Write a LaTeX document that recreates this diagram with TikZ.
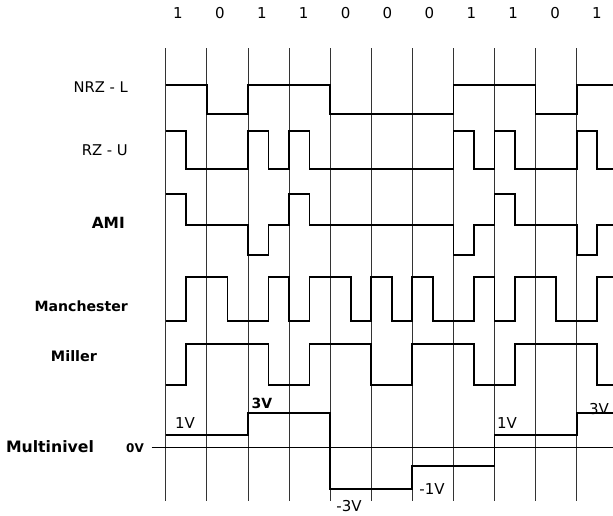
\documentclass[tikz,border=0pt]{standalone}
\usepackage{fontspec}
\setmainfont{DejaVu Sans}
\newcommand\myfs[1]{\fontsize{#1}{#1}\selectfont}
\begin{document}
\begin{tikzpicture}[x=1pt,y=-1pt,
  wave/.style={line width=1.7pt, line join=miter},
  gridline/.style={line width=0.7pt, black!80},
  zeroline/.style={line width=1pt},
  txt/.style={inner sep=0pt, text=black},
  digit/.style={txt, font=\myfs{15}},
  volt/.style={txt, font=\myfs{15}}]
\useasboundingbox (0,0) rectangle (613,515);
% vertical grid lines
\foreach \i in {0,...,10}
  \draw[gridline] ({165.7+41.1*\i},48) -- ({165.7+41.1*\i},501);
% bit labels
\foreach \b [count=\i from 0] in {1,0,1,1,0,0,0,1,1,0,1}
  \node[digit] (bit\i) at ({178+41.9*\i},13) {\b};
% signal names
\node[txt, anchor=east, font=\myfs{14.7}] (nrz) at (128,87) {NRZ - L};
\node[txt, anchor=east, font=\myfs{14.8}] (rzu) at (128,150) {RZ - U};
\node[txt, anchor=east, font=\bfseries\myfs{15.4}] (ami) at (125,223) {AMI};
\node[txt, anchor=east, font=\bfseries\myfs{14.1}] (man) at (128,306) {Manchester};
\node[txt, font=\bfseries\myfs{14.4}] (mil) at (74,356) {Miller};
\node[txt, font=\bfseries\myfs{15.7}] (mul) at (50,447) {Multinivel};
\node[txt, font=\bfseries\myfs{12}] (v0) at (135,448) {0V};
% zero line of the multilevel signal
\coordinate (zl) at (151.7,447);
\coordinate (zr) at (613,447);
\draw[zeroline] (zl) -- (zr);
% voltage labels
\node[volt] (v1a) at (185,423) {1V};
\node[volt, font=\bfseries\myfs{14}] (v3a) at (262,403) {3V};
\node[volt] (vm3) at (349,506) {-3V};
\node[volt] (vm1) at (432,489) {-1V};
\node[volt] (v1b) at (507,423) {1V};
\node[volt] (v3b) at (599,409) {3V};
\begin{scope}[xshift=165.7pt, x=41.1pt, y=-1pt]
% NRZ-L
\draw[wave] (0,85) -- (1,85) -- (1,114) -- (2,114) -- (2,85) -- (4,85) -- (4,114)
  -- (7,114) -- (7,85) -- (9,85) -- (9,114) -- (10,114) -- (10,85) -- (10.9,85);
% RZ-U
\draw[wave] (0,131) -- (0.5,131) -- (0.5,169) -- (2,169) -- (2,131) -- (2.5,131)
  -- (2.5,169) -- (3,169) -- (3,131) -- (3.5,131) -- (3.5,169) -- (7,169) -- (7,131)
  -- (7.5,131) -- (7.5,169) -- (8,169) -- (8,131) -- (8.5,131) -- (8.5,169)
  -- (10,169) -- (10,131) -- (10.5,131) -- (10.5,169) -- (10.9,169);
% AMI
\draw[wave] (0,194) -- (0.5,194) -- (0.5,225) -- (2,225) -- (2,255) -- (2.5,255)
  -- (2.5,225) -- (3,225) -- (3,194) -- (3.5,194) -- (3.5,225) -- (7,225) -- (7,255)
  -- (7.5,255) -- (7.5,225) -- (8,225) -- (8,194) -- (8.5,194) -- (8.5,225)
  -- (10,225) -- (10,255) -- (10.5,255) -- (10.5,225) -- (10.9,225);
% Manchester
\draw[wave] (0,321) -- (0.5,321) -- (0.5,277) -- (1.5,277) -- (1.5,321) -- (2.5,321)
  -- (2.5,277) -- (3,277) -- (3,321) -- (3.5,321) -- (3.5,277) -- (4.5,277)
  -- (4.5,321) -- (5,321) -- (5,277) -- (5.5,277) -- (5.5,321) -- (6,321) -- (6,277)
  -- (6.5,277) -- (6.5,321) -- (7.5,321) -- (7.5,277) -- (8,277) -- (8,321)
  -- (8.5,321) -- (8.5,277) -- (9.5,277) -- (9.5,321) -- (10.5,321) -- (10.5,277)
  -- (10.9,277);
% Miller
\draw[wave] (0,385) -- (0.5,385) -- (0.5,344) -- (2.5,344) -- (2.5,385) -- (3.5,385)
  -- (3.5,344) -- (5,344) -- (5,385) -- (6,385) -- (6,344) -- (7.5,344) -- (7.5,385)
  -- (8.5,385) -- (8.5,344) -- (10.5,344) -- (10.5,385) -- (10.9,385);
% Multinivel
\draw[wave] (0,435) -- (2,435) -- (2,413) -- (4,413) -- (4,489) -- (6,489)
  -- (6,466) -- (8,466) -- (8,435) -- (10,435) -- (10,413) -- (10.9,413);
\end{scope}
\end{tikzpicture}
\end{document}
